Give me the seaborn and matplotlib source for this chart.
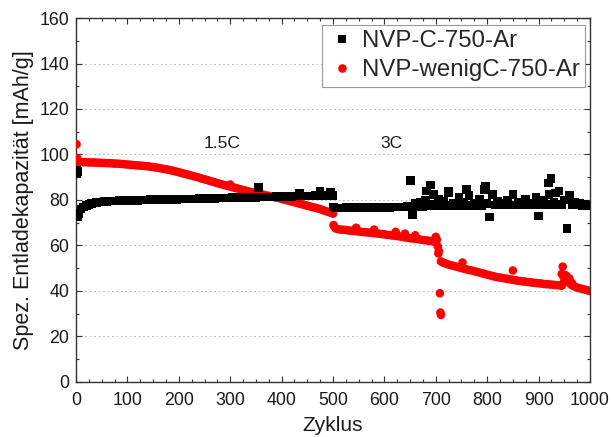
import numpy as np
import pandas as pd
import matplotlib
matplotlib.use("Agg")
import matplotlib.pyplot as plt
import seaborn as sns
from matplotlib.ticker import MultipleLocator

sns.set_theme(style="ticks")
plt.rcParams['font.family'] = ['Liberation Sans', 'DejaVu Sans']

label_c = "NVP-C-750-Ar"
label_w = "NVP-wenigC-750-Ar"

# sampled cycles (every 5th cycle)
cycles = np.arange(5, 1001, 5)

cap_c = [
    74.0, 76.0, 77.0, 77.6, 78.1, 78.4, 78.7, 78.9, 79.1, 79.2,
    79.3, 79.4, 79.5, 79.5, 79.6, 79.6, 79.7, 79.7, 79.8, 79.8,
    79.8, 79.9, 79.9, 79.9, 80.0, 80.0, 80.0, 80.0, 80.1, 80.1,
    80.1, 80.1, 80.2, 80.2, 80.2, 80.2, 80.3, 80.3, 80.3, 80.4,
    80.4, 80.4, 80.4, 80.5, 80.5, 80.5, 80.5, 80.6, 80.6, 80.6,
    80.6, 80.7, 80.7, 80.7, 80.8, 80.8, 80.8, 80.9, 80.9, 80.9,
    81.0, 81.0, 81.0, 81.0, 81.1, 81.1, 81.1, 81.2, 81.2, 81.2,
    85.5, 81.3, 81.3, 81.3, 81.4, 81.4, 81.4, 81.5, 81.5, 81.5,
    81.5, 81.6, 81.6, 81.6, 81.7, 81.7, 83.0, 81.7, 81.8, 81.8,
    81.8, 81.8, 81.9, 81.9, 83.8, 81.9, 82.0, 82.0, 83.5, 82.0,
    76.5, 76.5, 76.4, 76.5, 76.6, 76.5, 76.6, 76.5, 76.6, 76.7,
    76.6, 76.7, 76.6, 76.7, 76.7, 76.8, 76.7, 76.8, 76.8, 76.8,
    76.9, 76.8, 76.9, 76.9, 77.0, 77.0, 76.9, 77.0, 77.2, 77.0,
    73.5, 78.5, 77.0, 79.0, 77.2, 80.0, 77.3, 78.0, 82.5, 77.5,
    80.5, 77.5, 79.5, 77.4, 83.0, 77.6, 78.5, 77.5, 81.0, 77.6,
    79.0, 77.6, 82.0, 77.7, 78.5, 77.7, 80.5, 77.7, 84.5, 78.5,
    72.5, 82.5, 77.8, 79.5, 77.8, 78.5, 77.8, 80.0, 77.8, 82.5,
    77.8, 79.0, 77.8, 77.9, 80.5, 77.9, 78.5, 77.9, 81.0, 73.0,
    77.9, 80.0, 78.0, 82.5, 78.0, 79.0, 78.0, 84.0, 78.0, 80.0,
    67.5, 81.0, 78.0, 79.0, 77.8, 78.5, 77.7, 78.0, 77.6, 77.5,
]

cap_w = [
    96.5, 96.6, 96.6, 96.6, 96.5, 96.5, 96.5, 96.4, 96.4, 96.3,
    96.3, 96.2, 96.2, 96.1, 96.0, 96.0, 95.9, 95.8, 95.7, 95.6,
    95.5, 95.4, 95.3, 95.2, 95.1, 95.0, 94.9, 94.8, 94.6, 94.5,
    94.3, 94.1, 93.9, 93.7, 93.5, 93.3, 93.0, 92.8, 92.5, 92.2,
    91.9, 91.6, 91.3, 91.0, 90.7, 90.4, 90.1, 89.8, 89.4, 89.1,
    88.8, 88.4, 88.1, 87.8, 87.4, 87.1, 86.8, 86.5, 86.2, 85.9,
    85.6, 85.3, 85.0, 84.7, 84.4, 84.1, 83.8, 83.5, 83.3, 83.0,
    82.8, 82.5, 82.3, 82.0, 81.8, 81.5, 81.3, 81.0, 80.8, 80.5,
    80.2, 79.9, 79.6, 79.3, 79.0, 78.7, 78.4, 78.1, 77.8, 77.5,
    77.2, 76.9, 76.6, 76.3, 76.0, 75.6, 75.2, 74.8, 74.4, 74.0,
    67.5, 67.2, 67.0, 66.9, 66.8, 66.6, 66.5, 66.4, 66.3, 66.2,
    66.0, 65.9, 65.8, 65.7, 65.6, 65.4, 65.3, 65.2, 65.0, 64.9,
    64.7, 64.6, 64.4, 64.3, 64.1, 64.0, 63.8, 63.6, 63.4, 63.2,
    63.1, 62.9, 62.8, 62.6, 62.4, 62.3, 62.1, 62.0, 61.8, 61.5,
    56.5, 53.0, 52.4, 52.0, 51.6, 51.3, 51.0, 50.7, 50.4, 50.1,
    49.8, 49.5, 49.2, 49.0, 48.7, 48.4, 48.1, 47.8, 47.5, 47.2,
    46.9, 46.6, 46.3, 46.1, 45.9, 45.7, 45.5, 45.3, 45.1, 44.9,
    44.7, 44.5, 44.4, 44.2, 44.1, 43.9, 43.8, 43.6, 43.5, 43.4,
    43.3, 43.1, 43.0, 42.9, 42.8, 42.7, 42.6, 42.5, 42.3, 44.5,
    45.0, 43.5, 42.5, 42.0, 41.5, 41.2, 40.9, 40.6, 40.3, 40.0,
]

# extra individually read points (first cycles, outliers)
extra_cyc_c = [1, 2, 3, 4, 501, 651, 682, 690, 725, 760, 797, 919, 924, 933, 960]
extra_cap_c = [93.0, 91.5, 92.5, 72.5, 77.0, 88.5, 84.0, 86.5, 84.0, 84.5, 86.0, 87.5, 89.5, 83.0, 82.0]

extra_cyc_w = [1, 2, 3, 300, 501, 502, 545, 580, 622, 640, 660, 700, 702, 704,
               706, 708, 709, 710, 752, 850, 945, 947, 948, 952, 955, 960, 965]
extra_cap_w = [104.5, 98.5, 97.5, 86.8, 69.0, 68.5, 67.8, 67.0, 66.0, 65.2, 64.5, 63.8, 62.5, 59.5,
               57.5, 39.0, 30.5, 29.5, 52.5, 49.0, 47.5, 50.7, 46.5, 47.0, 46.5, 45.5, 43.5]

df_w = pd.DataFrame({
    "Zyklus": list(cycles) + extra_cyc_w,
    "Kap": cap_w + extra_cap_w,
    "Probe": label_w,
})
df_c = pd.DataFrame({
    "Zyklus": list(cycles) + extra_cyc_c,
    "Kap": cap_c + extra_cap_c,
    "Probe": label_c,
})
df = pd.concat([df_w, df_c], ignore_index=True)

fig = plt.figure(figsize=(6.11, 4.37), dpi=100)
ax = fig.add_axes([0.1244, 0.1259, 0.8412, 0.8329])

sns.scatterplot(
    data=df, x="Zyklus", y="Kap", hue="Probe", style="Probe",
    hue_order=[label_c, label_w], style_order=[label_c, label_w],
    palette={label_c: "black", label_w: "#ff0000"},
    markers={label_c: "s", label_w: "o"},
    s=38, linewidth=0, ax=ax, zorder=3,
)

ax.set_xlim(0, 1000)
ax.set_ylim(0, 160)
ax.xaxis.set_major_locator(MultipleLocator(100))
ax.xaxis.set_minor_locator(MultipleLocator(25))
ax.yaxis.set_major_locator(MultipleLocator(20))
ax.yaxis.set_minor_locator(MultipleLocator(10))
ax.tick_params(which="both", direction="in", top=True, right=True,
               colors="#333333", labelcolor="#1a1a1a", labelsize=12.8, width=0.8)
ax.tick_params(which="major", length=4)
ax.tick_params(axis="x", which="major", pad=7)
ax.tick_params(axis="y", which="major", pad=5)
ax.tick_params(which="minor", length=2)
for sp in ax.spines.values():
    sp.set_color("#333333")
    sp.set_linewidth(1.0)
ax.yaxis.grid(True, linestyle=(0, (1.5, 2.5)), color="#bbbbbb", linewidth=0.8)
ax.set_axisbelow(True)

ax.set_xlabel("Zyklus", fontsize=15, color="#1a1a1a", labelpad=5)
ax.set_ylabel("Spez. Entladekapazität [mAh/g]", fontsize=15.5, color="#1a1a1a", labelpad=4)

ax.text(284, 105, "1.5C", fontsize=12.5, ha="center", va="center", color="#1a1a1a")
ax.text(613, 105, "3C", fontsize=12.5, ha="center", va="center", color="#1a1a1a")

leg = ax.legend(loc="upper right", bbox_to_anchor=(0.990, 0.981), fontsize=17.3,
                frameon=True, fancybox=False, framealpha=1, edgecolor="#999999",
                handletextpad=0.15, borderpad=0.22, labelspacing=0.3, markerscale=1.0,
                handlelength=1.3, borderaxespad=0)
leg.get_frame().set_linewidth(0.8)

fig.savefig("out.png", dpi=100)
